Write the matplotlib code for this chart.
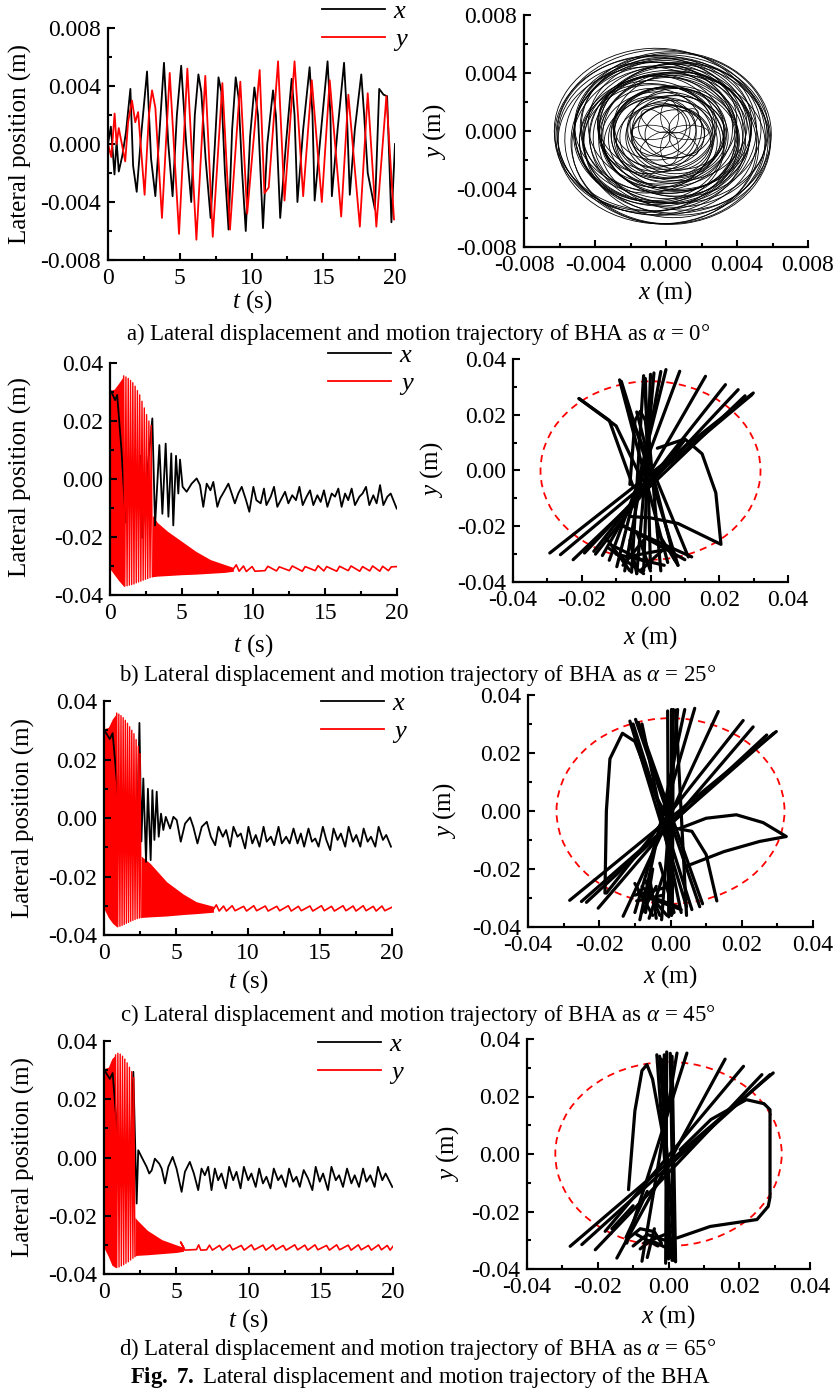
import numpy as np
import matplotlib
matplotlib.use('Agg')
import matplotlib.pyplot as plt
from matplotlib.patches import Ellipse
from matplotlib.lines import Line2D
from matplotlib.ticker import MultipleLocator, FuncFormatter

plt.rcParams['font.family'] = ['Liberation Serif', 'DejaVu Serif']
plt.rcParams['mathtext.fontset'] = 'custom'
plt.rcParams['mathtext.rm'] = 'Liberation Serif'
plt.rcParams['mathtext.it'] = 'Liberation Serif:italic'
plt.rcParams['mathtext.bf'] = 'Liberation Serif:bold'
plt.rcParams['axes.unicode_minus'] = False

###############################
######   DATA  (read off)  #####
###############################

# ---- a) alpha = 0 ----
xa_t = [0, 0.2, 0.45, 0.6, 0.75, 1.0, 1.25, 1.56, 1.75, 2.0, 2.3, 2.72, 3.0, 3.3, 3.6, 3.9, 4.2, 4.5, 4.8,
        5.1, 5.45, 5.8, 6.05, 6.3, 6.5, 6.8, 7.15, 7.45, 7.7, 7.9, 8.15, 8.4, 8.65, 8.9, 9.1, 9.35, 9.6,
        9.9, 10.2, 10.45, 10.8, 11.1, 11.5, 11.7, 12.0, 12.4, 12.8, 13.0, 13.2, 13.6, 14.05, 14.25, 14.4,
        14.9, 15.3, 15.5, 15.6, 16.0, 16.45, 16.65, 16.85, 17.2, 17.65, 17.85, 18.1, 18.6, 18.9, 19.2,
        19.45, 19.75, 20.0]
xa_v = [0.0, 0.0012, -0.0021, 0.0002, -0.0019, -0.0008, 0.0008, 0.0038, -0.0015, -0.0033, 0.0005, 0.0050,
        -0.0010, -0.0036, 0.0010, 0.0056, 0.0000, -0.0036, 0.0020, 0.0054, 0.0000, -0.0040, 0.0020, 0.0048,
        0.0036, -0.0010, -0.0051, 0.0000, 0.0046, 0.0036, -0.0020, -0.0059, 0.0010, 0.0046, 0.0032, -0.0020,
        -0.0060, 0.0005, 0.0039, 0.0020, -0.0058, 0.0000, 0.0037, 0.0020, -0.0051, 0.0000, 0.0045, 0.0020,
        -0.0040, 0.0010, 0.0053, 0.0020, -0.0039, 0.0015, 0.0057, 0.0020, -0.0036, 0.0010, 0.0056, 0.0020,
        -0.0035, 0.0010, 0.0048, 0.0020, -0.0020, -0.0045, 0.0038, 0.0034, 0.0033, -0.0054, 0.0000]
ya_t = [0, 0.23, 0.46, 0.6, 0.75, 1.2, 1.4, 1.67, 1.9, 2.1, 2.55, 2.85, 3.07, 3.3, 3.76, 4.3, 4.95, 5.53,
        6.16, 6.78, 7.3, 7.97, 8.5, 9.22, 9.7, 10.57, 10.9, 11.2, 11.85, 12.3, 13.0, 13.6, 14.2, 14.9,
        15.45, 16.25, 16.75, 17.55, 18.1, 18.7, 19.4, 19.93]
ya_v = [0.0, -0.0009, 0.0021, 0.0000, 0.0011, -0.0012, 0.0015, 0.0030, 0.0015, 0.0022, -0.0035, 0.0020,
        0.0037, 0.0025, -0.0051, 0.0049, -0.0062, 0.0052, -0.0066, 0.0047, -0.0064, 0.0042, -0.0059, 0.0043,
        -0.0048, 0.0051, -0.0034, -0.0030, 0.0057, -0.0039, 0.0057, -0.0036, 0.0044, -0.0040, 0.0044,
        -0.0050, 0.0034, -0.0057, 0.0035, -0.0057, 0.0033, -0.0052]

# trajectory loops for a) : centre, diameters, tilt
orbit_cx = [-0.0003, -0.0006, 0.0002, -0.0009, 0.0005, -0.0001, 0.0007, -0.0011, 0.0000, -0.0004, 0.0009,
            -0.0007, 0.0003, -0.0002, 0.0006, -0.0008, 0.0001, 0.0008, -0.0010, 0.0004, -0.0005, 0.0002,
            -0.0003, 0.0006, -0.0001, 0.0004, -0.0006, 0.0003, 0.0001, -0.0004, 0.0005, -0.0002,
            0.0001, -0.0005, 0.0004, -0.0008, 0.0006, -0.0002, 0.0003, -0.0006, 0.0008, -0.0004, 0.0000,
            0.0005, -0.0007, 0.0002, -0.0003, 0.0006, -0.0005, 0.0001, -0.0009, 0.0004, -0.0001, 0.0007,
            -0.0006, 0.0003]
orbit_cy = [-0.0004, 0.0001, -0.0007, -0.0002, 0.0002, -0.0010, -0.0003, -0.0006, 0.0004, -0.0001, -0.0008,
            0.0003, -0.0005, 0.0006, -0.0002, -0.0009, 0.0001, 0.0003, -0.0004, -0.0006, 0.0005, -0.0003,
            -0.0008, 0.0000, 0.0002, -0.0005, -0.0001, 0.0004, -0.0003, 0.0001, -0.0002, 0.0003,
            -0.0006, -0.0003, -0.0001, -0.0005, -0.0006, 0.0000, -0.0009, -0.0002, 0.0001, -0.0007, -0.0004,
            0.0002, -0.0008, -0.0003, 0.0003, -0.0005, -0.0006, -0.0002, 0.0000, -0.0004, -0.0007, -0.0001,
            0.0002, -0.0005]
orbit_w = [0.0118, 0.0114, 0.0111, 0.0108, 0.0106, 0.0104, 0.0101, 0.0099, 0.0097, 0.0095, 0.0092, 0.0090,
           0.0088, 0.0086, 0.0083, 0.0081, 0.0079, 0.0076, 0.0074, 0.0071, 0.0068, 0.0065, 0.0062, 0.0059,
           0.0056, 0.0052, 0.0048, 0.0045, 0.0041, 0.0037, 0.0033, 0.0029,
           0.0116, 0.0113, 0.0110, 0.0107, 0.0103, 0.0100, 0.0098, 0.0094, 0.0091, 0.0089, 0.0087, 0.0084,
           0.0080, 0.0077, 0.0073, 0.0070, 0.0066, 0.0063, 0.0060, 0.0057, 0.0054, 0.0050, 0.0046, 0.0043]
orbit_h = [0.0120, 0.0112, 0.0114, 0.0106, 0.0103, 0.0108, 0.0098, 0.0101, 0.0094, 0.0097, 0.0095, 0.0088,
           0.0090, 0.0083, 0.0086, 0.0084, 0.0077, 0.0074, 0.0078, 0.0073, 0.0065, 0.0067, 0.0064, 0.0056,
           0.0058, 0.0054, 0.0046, 0.0047, 0.0042, 0.0035, 0.0034, 0.0027,
           0.0117, 0.0110, 0.0112, 0.0104, 0.0106, 0.0099, 0.0102, 0.0092, 0.0093, 0.0090, 0.0085, 0.0087,
           0.0079, 0.0080, 0.0070, 0.0073, 0.0063, 0.0066, 0.0057, 0.0060, 0.0051, 0.0053, 0.0044, 0.0046]
orbit_ang = [0, 15, -10, 30, -25, 5, 40, -35, 20, -5, 50, -45, 10, 60, -15, 25, -60, 35, -20, 70, -40, 45,
             -70, 80, -50, 55, -80, 65, -30, 75, -55, 85,
             10, -20, 35, -40, 55, -65, 20, 75, -10, 45, -30, 65, -75, 15, -50, 30, 85, -25, 50, -85, 5, 60,
             -15, 40]
petal_cx = [0.0013, 0.0010, 0.0002, -0.0006, -0.0009, -0.0006, 0.0002, 0.0010]
petal_cy = [-0.0001, 0.0007, 0.0010, 0.0007, -0.0001, -0.0009, -0.0012, -0.0009]
petal_w = [0.0022, 0.0021, 0.0022, 0.0020, 0.0022, 0.0021, 0.0022, 0.0020]
petal_h = [0.0010, 0.0011, 0.0010, 0.0011, 0.0010, 0.0011, 0.0010, 0.0011]
petal_ang = [0, 45, 90, 135, 0, 45, 90, 135]

# ---- b) alpha = 25 ----
xb_t = [0, 0.15, 0.35, 0.5, 0.8, 1.1, 1.4, 1.7, 1.97, 2.1, 2.25, 2.55, 2.95, 3.14, 3.44, 3.65, 3.88, 4.07,
        4.27, 4.41, 4.6, 4.76, 4.88, 5.06, 5.34, 5.69, 6.04, 6.27, 6.5, 6.74, 7.0, 7.2, 7.48, 7.67, 7.94,
        8.25, 8.48, 8.7, 8.94, 9.18, 9.48, 9.71, 9.99, 10.2, 10.5, 10.73, 10.9, 11.2, 11.43, 11.66, 11.96,
        12.2, 12.43, 12.7, 12.96, 13.2, 13.43, 13.7, 13.94, 14.17, 14.45, 14.68, 14.91, 15.15, 15.45, 15.68,
        15.91, 16.14, 16.38, 16.6, 16.84, 17.07, 17.38, 17.6, 17.84, 18.07, 18.35, 18.58, 18.82, 19.05,
        19.33, 19.56, 19.98]
xb_v = [0.0307, 0.0295, 0.0272, 0.0290, 0.0100, -0.0150, 0.0050, -0.0050, -0.0095, 0.0080, -0.0202, 0.0000,
        0.0209, -0.0160, 0.0117, -0.0120, 0.0122, -0.0130, 0.0088, -0.0160, 0.0080, -0.0050, 0.0067, -0.0027,
        -0.0044, -0.0016, 0.0002, -0.0021, -0.0096, -0.0016, -0.0039, -0.0010, -0.0096, -0.0067, -0.0044,
        -0.0016, -0.0050, -0.0084, -0.0050, -0.0027, -0.0073, -0.0113, -0.0027, -0.0073, -0.0084, -0.0033,
        -0.0090, -0.0061, -0.0027, -0.0096, -0.0067, -0.0044, -0.0084, -0.0056, -0.0073, -0.0027, -0.0090,
        -0.0061, -0.0039, -0.0090, -0.0056, -0.0079, -0.0039, -0.0096, -0.0050, -0.0061, -0.0033, -0.0096,
        -0.0050, -0.0073, -0.0033, -0.0090, -0.0061, -0.0050, -0.0027, -0.0090, -0.0056, -0.0084, -0.0021,
        -0.0090, -0.0061, -0.0050, -0.0102]
yb_band0_t = [0, 0.3, 0.6, 0.95]
yb_band0_hi = [0.0305, 0.0310, 0.0330, 0.0355]
yb_band0_lo = [-0.0310, -0.0330, -0.0350, -0.0370]
yb_top_t = [0.95, 1.11, 1.27, 1.43, 1.59, 1.75, 1.91, 2.07, 2.23, 2.39, 2.55, 2.71, 2.87]
yb_top_v = [0.0355, 0.0352, 0.0347, 0.0340, 0.0332, 0.0320, 0.0305, 0.0290, 0.0268, 0.0245, 0.0222, 0.0200, 0.0185]
yb_bot_t = [1.03, 1.19, 1.35, 1.51, 1.67, 1.83, 1.99, 2.15, 2.31, 2.47, 2.63, 2.79, 2.95]
yb_bot_v = [-0.0370, -0.0368, -0.0366, -0.0364, -0.0362, -0.0358, -0.0355, -0.0352, -0.0349, -0.0346, -0.0343,
            -0.0340, -0.0337]
yb_band2_t = [2.95, 3.3, 4.0, 5.0, 6.0, 7.0, 8.0, 8.6]
yb_band2_hi = [-0.0125, -0.0150, -0.0180, -0.0215, -0.0250, -0.0278, -0.0295, -0.0305]
yb_band2_lo = [-0.0337, -0.0335, -0.0333, -0.0330, -0.0328, -0.0325, -0.0322, -0.0318]
yb_tail_t = [8.6, 8.8, 9.0, 9.3, 9.5, 9.9, 10.1, 10.8, 11.0, 11.6, 11.8, 12.5, 12.7, 13.4, 13.6, 14.3, 14.5,
             14.9, 15.1, 15.8, 16.0, 16.6, 16.8, 17.4, 17.6, 18.1, 18.3, 18.8, 19.0, 19.4, 19.6, 20.0]
yb_tail_v = [-0.0310, -0.0296, -0.0318, -0.0300, -0.0319, -0.0302, -0.0318, -0.0316, -0.0301, -0.0317, -0.0303,
             -0.0316, -0.0300, -0.0318, -0.0302, -0.0316, -0.0299, -0.0317, -0.0302, -0.0318, -0.0301, -0.0316,
             -0.0300, -0.0318, -0.0302, -0.0317, -0.0300, -0.0318, -0.0301, -0.0316, -0.0303, -0.0302]
traj_b = [
    [(-0.0293, -0.0296), (0.0299, 0.0278)], [(-0.0262, -0.0302), (0.0295, 0.0272)],
    [(-0.0225, -0.0320), (0.0275, 0.0268)], [(-0.0192, -0.0296), (0.0255, 0.0290)],
    [(-0.0165, -0.0290), (0.0218, 0.0308)], [(-0.0140, -0.0305), (0.0160, 0.0338)],
    [(-0.0120, -0.0322), (0.0085, 0.0356)], [(-0.0098, -0.0345), (0.0045, 0.0362)],
    [(-0.0075, -0.0360), (0.0030, 0.0355)], [(-0.0055, -0.0365), (-0.0020, 0.0340)],
    [(-0.0040, -0.0370), (0.0010, 0.0350)], [(-0.0020, -0.0360), (0.0000, 0.0345)],
    [(0.0000, -0.0350), (-0.0015, 0.0330)], [(0.0030, -0.0360), (-0.0020, 0.0335)],
    [(0.0050, -0.0330), (-0.0090, 0.0325)], [(0.0080, -0.0340), (-0.0085, 0.0320)],
    [(0.0110, -0.0310), (-0.0060, 0.0200)], [(0.0070, -0.0320), (-0.0040, 0.0210)],
    [(-0.0208, 0.0258), (-0.0120, 0.0180), (-0.0050, -0.0060)],
    [(-0.0208, 0.0258), (-0.0100, 0.0160), (-0.0030, -0.0020)],
    [(-0.0060, -0.0050), (-0.0045, 0.0180), (-0.0030, 0.0212), (-0.0015, 0.0180), (0.0000, 0.0000)],
    [(0.0020, 0.0080), (0.0100, 0.0113), (0.0150, 0.0060), (0.0190, -0.0080), (0.0205, -0.0265),
     (0.0180, -0.0250), (0.0080, -0.0190), (0.0000, -0.0170), (-0.0060, -0.0165)],
    [(-0.0120, -0.0280), (-0.0020, -0.0370)], [(-0.0100, -0.0300), (0.0040, -0.0340)],
    [(-0.0060, -0.0250), (-0.0040, -0.0370)], [(0.0020, -0.0220), (0.0080, -0.0340)],
    [(-0.0080, -0.0200), (0.0120, -0.0310)], [(-0.0090, -0.0190), (0.0100, -0.0320)],
    [(-0.0130, -0.0240), (-0.0060, -0.0360)], [(-0.0160, -0.0300), (0.0100, 0.0110)],
    [(-0.0040, -0.0220), (0.0000, -0.0360)], [(-0.0020, -0.0250), (-0.0080, -0.0340)],
    [(0.0040, -0.0280), (-0.0030, -0.0360)], [(-0.0110, -0.0270), (-0.0010, -0.0330)],
    [(-0.0070, -0.0310), (0.0060, -0.0280)],
]

# ---- c) alpha = 45 ----
xc_t = [0, 0.15, 0.4, 0.6, 0.9, 1.2, 1.5, 1.8, 2.1, 2.3, 2.46, 2.6, 2.73, 2.92, 3.05, 3.24, 3.36, 3.5, 3.66,
        3.8, 3.96, 4.12, 4.29, 4.59, 4.82, 5.05, 5.33, 5.63, 5.98, 6.2, 6.49, 6.79, 7.14, 7.42, 7.72, 7.95,
        8.25, 8.48, 8.76, 8.99, 9.27, 9.5, 9.8, 10.03, 10.3, 10.54, 10.8, 11.08, 11.3, 11.59, 11.82, 12.12,
        12.35, 12.65, 12.89, 13.16, 13.44, 13.67, 13.9, 14.2, 14.44, 14.67, 14.9, 15.2, 15.44, 15.71, 15.94,
        16.22, 16.45, 16.75, 16.99, 17.29, 17.52, 17.8, 18.03, 18.31, 18.54, 18.84, 19.07, 19.37, 19.6, 19.93]
xc_v = [0.0302, 0.0290, 0.0270, 0.0290, 0.0120, -0.0100, 0.0060, -0.0120, 0.0040, -0.0060, 0.0325, -0.0080,
        0.0135, -0.0150, 0.0100, -0.0144, 0.0095, -0.0075, 0.0090, -0.0064, 0.0015, -0.0041, 0.0004, -0.0036,
        0.0004, -0.0007, -0.0081, -0.0019, 0.0002, -0.0030, -0.0087, -0.0030, -0.0013, -0.0064, -0.0093,
        -0.0030, -0.0064, -0.0041, -0.0098, -0.0030, -0.0064, -0.0053, -0.0104, -0.0030, -0.0087, -0.0058,
        -0.0098, -0.0030, -0.0081, -0.0064, -0.0093, -0.0030, -0.0087, -0.0064, -0.0087, -0.0036, -0.0087,
        -0.0053, -0.0098, -0.0036, -0.0081, -0.0070, -0.0098, -0.0030, -0.0075, -0.0110, -0.0036, -0.0075,
        -0.0053, -0.0098, -0.0030, -0.0081, -0.0058, -0.0098, -0.0036, -0.0081, -0.0064, -0.0098, -0.0030,
        -0.0075, -0.0058, -0.0098]
yc_band0_t = [0, 0.3, 0.6, 0.88]
yc_band0_hi = [0.0305, 0.0310, 0.0340, 0.0358]
yc_band0_lo = [-0.0310, -0.0340, -0.0360, -0.0372]
yc_top_t = [0.88, 1.03, 1.18, 1.33, 1.48, 1.63, 1.78, 1.93, 2.08, 2.23, 2.38, 2.50]
yc_top_v = [0.0358, 0.0355, 0.0350, 0.0343, 0.0334, 0.0324, 0.0312, 0.0300, 0.0288, 0.0268, 0.0245, 0.0220]
yc_bot_t = [0.955, 1.105, 1.255, 1.405, 1.555, 1.705, 1.855, 2.005, 2.155, 2.305, 2.455, 2.58]
yc_bot_v = [-0.0372, -0.0370, -0.0367, -0.0364, -0.0360, -0.0357, -0.0353, -0.0350, -0.0347, -0.0344, -0.0342,
            -0.0340]
yc_band2_t = [2.58, 3.2, 4.35, 5.5, 6.4, 7.6]
yc_band2_hi = [-0.0130, -0.0155, -0.0218, -0.0260, -0.0286, -0.0302]
yc_band2_lo = [-0.0340, -0.0338, -0.0335, -0.0330, -0.0327, -0.0322]
yc_tail_t = [7.6, 7.8, 8.0, 8.3, 8.5, 8.9, 9.1, 9.7, 9.9, 10.4, 10.6, 11.2, 11.4, 12.0, 12.2, 12.8, 13.0, 13.5,
             13.7, 14.3, 14.5, 15.1, 15.3, 15.8, 16.0, 16.6, 16.8, 17.3, 17.5, 18.0, 18.2, 18.7, 18.9, 19.3,
             19.5, 20.0]
yc_tail_v = [-0.0312, -0.0297, -0.0318, -0.0301, -0.0318, -0.0300, -0.0317, -0.0302, -0.0318, -0.0300, -0.0317,
             -0.0301, -0.0318, -0.0302, -0.0317, -0.0300, -0.0318, -0.0302, -0.0317, -0.0301, -0.0318, -0.0300,
             -0.0317, -0.0302, -0.0318, -0.0300, -0.0317, -0.0301, -0.0318, -0.0300, -0.0317, -0.0302, -0.0318,
             -0.0301, -0.0317, -0.0305]
traj_c = [
    [(-0.0283, -0.0308), (0.0297, 0.0274)], [(-0.0250, -0.0312), (0.0290, 0.0268)],
    [(-0.0236, -0.0315), (0.0270, 0.0262)], [(-0.0203, -0.0335), (0.0232, 0.0290)],
    [(-0.0180, -0.0283), (0.0204, 0.0312)], [(-0.0133, -0.0363), (0.0134, 0.0343)],
    [(-0.0100, -0.0350), (0.0068, 0.0354)], [(-0.0086, -0.0375), (0.0040, 0.0350)],
    [(0.0000, 0.0352), (0.0000, -0.0360)], [(0.0008, 0.0350), (0.0005, -0.0355)],
    [(-0.0008, 0.0345), (-0.0005, -0.0365)], [(0.0015, 0.0348), (0.0045, -0.0360)],
    [(0.0020, 0.0350), (-0.0025, -0.0375)],
    [(-0.0114, 0.0310), (0.0045, -0.0330)], [(-0.0098, 0.0316), (0.0082, -0.0330)],
    [(-0.0105, 0.0300), (0.0060, -0.0340)], [(-0.0090, 0.0305), (0.0090, -0.0320)],
    [(-0.0080, 0.0300), (0.0030, -0.0350)],
    [(-0.0184, -0.0283), (-0.0180, 0.0000), (-0.0170, 0.0180), (-0.0135, 0.0268), (-0.0100, 0.0240),
     (-0.0040, 0.0050), (-0.0010, -0.0020)],
    [(0.0026, -0.0060), (0.0100, -0.0025), (0.0185, -0.0013), (0.0260, -0.0040), (0.0325, -0.0088),
     (0.0250, -0.0105), (0.0150, -0.0140), (0.0045, -0.0190)],
    [(0.0015, -0.0060), (0.0060, -0.0070), (0.0100, -0.0150), (0.0130, -0.0310)],
    [(-0.0100, -0.0250), (-0.0050, -0.0360)], [(-0.0080, -0.0260), (-0.0010, -0.0360)],
    [(-0.0060, -0.0220), (-0.0040, -0.0370)], [(-0.0090, -0.0280), (0.0020, -0.0330)],
    [(-0.0050, -0.0200), (-0.0070, -0.0350)], [(-0.0030, -0.0180), (0.0010, -0.0350)],
    [(-0.0095, -0.0310), (-0.0020, -0.0290)],
    [(-0.0070, -0.0240), (-0.0030, -0.0360)], [(-0.0040, -0.0260), (-0.0080, -0.0350)],
    [(-0.0100, -0.0290), (0.0000, -0.0260)], [(-0.0060, -0.0300), (0.0030, -0.0340)],
    [(-0.0020, -0.0220), (-0.0060, -0.0370)],
]

# ---- d) alpha = 65 ----
xd_t = [0, 0.15, 0.4, 0.6, 0.9, 1.2, 1.5, 1.8, 2.03, 2.26, 2.37, 2.6, 2.95, 3.13, 3.3, 3.52, 3.82, 3.99, 4.22,
        4.45, 4.75, 5.02, 5.37, 5.6, 5.94, 6.22, 6.52, 6.75, 6.98, 7.21, 7.44, 7.67, 7.9, 8.13, 8.43, 8.66,
        8.94, 9.17, 9.45, 9.68, 9.98, 10.2, 10.5, 10.74, 11.0, 11.24, 11.52, 11.75, 12.05, 12.28, 12.58,
        12.81, 13.09, 13.32, 13.55, 13.82, 14.12, 14.42, 14.65, 14.93, 15.16, 15.5, 15.74, 16.04, 16.27,
        16.54, 16.82, 17.12, 17.35, 17.65, 17.93, 18.16, 18.43, 18.73, 18.96, 19.26, 19.49, 19.95]
xd_v = [0.0305, 0.0290, 0.0270, 0.0290, 0.0100, -0.0100, 0.0050, -0.0050, 0.0294, -0.0158, 0.0025, 0.0002,
        -0.0032, -0.0055, -0.0044, -0.0004, -0.0021, -0.0038, -0.0089, -0.0032, 0.0002, -0.0038, -0.0118,
        -0.0049, -0.0015, -0.0055, -0.0112, -0.0038, -0.0061, -0.0032, -0.0112, -0.0038, -0.0078, -0.0055,
        -0.0106, -0.0032, -0.0078, -0.0049, -0.0106, -0.0032, -0.0078, -0.0055, -0.0101, -0.0038, -0.0089,
        -0.0066, -0.0106, -0.0038, -0.0078, -0.0061, -0.0101, -0.0038, -0.0083, -0.0066, -0.0101, -0.0043,
        -0.0072, -0.0112, -0.0032, -0.0083, -0.0055, -0.0112, -0.0032, -0.0078, -0.0061, -0.0101, -0.0038,
        -0.0089, -0.0061, -0.0101, -0.0038, -0.0083, -0.0061, -0.0101, -0.0032, -0.0078, -0.0055, -0.0101]
yd_band0_t = [0, 0.3, 0.55, 0.80]
yd_band0_hi = [0.0305, 0.0310, 0.0340, 0.0352]
yd_band0_lo = [-0.0310, -0.0340, -0.0370, -0.0378]
yd_top_t = [0.80, 0.96, 1.12, 1.28, 1.44, 1.60, 1.76, 1.92, 2.06]
yd_top_v = [0.0352, 0.0358, 0.0355, 0.0348, 0.0338, 0.0325, 0.0310, 0.0295, 0.0275]
yd_bot_t = [0.88, 1.04, 1.20, 1.36, 1.52, 1.68, 1.84, 2.00, 2.14]
yd_bot_v = [-0.0378, -0.0376, -0.0372, -0.0368, -0.0363, -0.0358, -0.0352, -0.0346, -0.0340]
yd_band2_t = [2.14, 2.3, 3.0, 4.0, 5.0, 5.5]
yd_band2_hi = [-0.0205, -0.0215, -0.0250, -0.0282, -0.0300, -0.0308]
yd_band2_lo = [-0.0338, -0.0336, -0.0334, -0.0330, -0.0326, -0.0322]
yd_tail_t = [5.5, 5.3, 5.6, 6.4, 6.55, 6.7, 7.1, 7.3, 7.5, 8.0, 8.2, 8.7, 8.9, 9.5, 9.7, 10.2, 10.4, 11.0, 11.2,
             11.7, 11.9, 12.4, 12.6, 13.2, 13.4, 13.9, 14.1, 14.6, 14.8, 15.4, 15.6, 16.1, 16.3, 16.9, 17.1,
             17.6, 17.8, 18.3, 18.5, 19.0, 19.2, 19.6, 19.8, 20.0]
yd_tail_v = [-0.0308, -0.0290, -0.0318, -0.0316, -0.0300, -0.0318, -0.0317, -0.0301, -0.0318, -0.0302, -0.0318,
             -0.0300, -0.0317, -0.0302, -0.0318, -0.0300, -0.0317, -0.0301, -0.0318, -0.0300, -0.0317, -0.0302,
             -0.0318, -0.0300, -0.0317, -0.0301, -0.0318, -0.0300, -0.0317, -0.0302, -0.0318, -0.0300, -0.0317,
             -0.0301, -0.0318, -0.0300, -0.0317, -0.0302, -0.0318, -0.0300, -0.0317, -0.0302, -0.0318, -0.0305]
traj_d = [
    [(-0.0278, -0.0321), (0.0296, 0.0282)], [(-0.0245, -0.0315), (0.0287, 0.0276)],
    [(-0.0207, -0.0333), (0.0264, 0.0276)], [(-0.0179, -0.0269), (0.0212, 0.0305)],
    [(-0.0146, -0.0362), (0.0160, 0.0330)], [(-0.0118, -0.0310), (0.0052, 0.0351)],
    [(-0.0075, -0.0373), (0.0024, 0.0351)],
    [(-0.0005, 0.0355), (-0.0008, -0.0380)], [(0.0005, 0.0350), (0.0015, -0.0370)],
    [(-0.0012, 0.0345), (0.0000, -0.0365)], [(0.0010, 0.0340), (0.0020, -0.0375)],
    [(-0.0020, 0.0330), (0.0005, -0.0360)],
    [(-0.0113, -0.0124), (-0.0095, 0.0150), (-0.0075, 0.0290), (-0.0061, 0.0311), (-0.0045, 0.0260),
     (-0.0015, 0.0060)],
    [(-0.0033, 0.0345), (0.0010, -0.0370)], [(-0.0025, 0.0340), (0.0018, -0.0360)],
    [(0.0033, 0.0015), (0.0120, 0.0120), (0.0220, 0.0189), (0.0270, 0.0175), (0.0287, 0.0154),
     (0.0287, -0.0150), (0.0282, -0.0182), (0.0250, -0.0228), (0.0118, -0.0252), (0.0024, -0.0292)],
    [(-0.0120, -0.0300), (-0.0080, -0.0260), (-0.0040, -0.0270), (-0.0020, -0.0310)],
    [(-0.0100, -0.0320), (-0.0060, -0.0280), (-0.0010, -0.0300)],
    [(-0.0080, -0.0330), (-0.0050, -0.0300), (0.0000, -0.0330)],
    [(-0.0160, -0.0260), (-0.0100, -0.0180)], [(-0.0120, -0.0290), (-0.0060, -0.0130)],
    [(-0.0090, -0.0280), (-0.0030, -0.0320)], [(-0.0070, -0.0310), (0.0010, -0.0270)],
    [(-0.0040, -0.0260), (-0.0060, -0.0360)],
]
circle_r = 0.032

captions = [r"a) Lateral displacement and motion trajectory of BHA as $\alpha$ = 0°",
            r"b) Lateral displacement and motion trajectory of BHA as $\alpha$ = 25°",
            r"c) Lateral displacement and motion trajectory of BHA as $\alpha$ = 45°",
            r"d) Lateral displacement and motion trajectory of BHA as $\alpha$ = 65°"]

###############################
######     FIGURE      #######
###############################
W, H = 836, 1396
fig = plt.figure(figsize=(W / 100, H / 100), dpi=100)


def box(l, r, t, b):
    return [l / W, 1 - b / H, (r - l) / W, (b - t) / H]


def ftxt(x, y, s, **kw):
    fig.text(x / W, 1 - y / H, s, **kw)


def fmt(nd):
    return FuncFormatter(lambda v, p: ('%.' + str(nd) + 'f') % (0.0 if abs(v) < 1e-9 else v))


def style(ax, xlim, ylim, xmaj, xmin, ymaj, ymin, xnd, ynd):
    ax.set_xlim(xlim)
    ax.set_ylim(ylim)
    for s in ['top', 'right']:
        ax.spines[s].set_visible(False)
    for s in ['left', 'bottom']:
        ax.spines[s].set_linewidth(1.6)
    ax.xaxis.set_major_locator(MultipleLocator(xmaj))
    ax.xaxis.set_minor_locator(MultipleLocator(xmin))
    ax.yaxis.set_major_locator(MultipleLocator(ymaj))
    ax.yaxis.set_minor_locator(MultipleLocator(ymin))
    ax.xaxis.set_major_formatter(fmt(xnd) if xnd else FuncFormatter(lambda v, p: '%d' % round(v)))
    ax.yaxis.set_major_formatter(fmt(ynd))
    ax.tick_params(which='major', direction='in', length=5, width=1.5, labelsize=17)
    ax.tick_params(which='minor', direction='in', length=3, width=1.5)
    ax.tick_params(axis='y', pad=5)
    ax.tick_params(axis='x', pad=6)
    ax.patch.set_alpha(0)


def legend(ax, hx, hy, lines):
    ax.legend(lines, ['$x$', '$y$'], loc='upper left', bbox_to_anchor=(hx / W, 1 - hy / H),
              bbox_transform=fig.transFigure, frameon=False, handlelength=2.4, handletextpad=0.3,
              labelspacing=0.15, fontsize=19, borderaxespad=0, borderpad=0)


def lateral(ax, xt, xv, b0t, b0h, b0l, tt, tv, bt, bv, b2t, b2h, b2l, tlt, tlv):
    lx, = ax.plot(xt, xv, color='k', lw=1.3)
    ax.fill_between(b0t, b0l, b0h, color='red', lw=0)
    zz = sorted(zip(tt + bt, tv + bv))
    ax.plot([p[0] for p in zz], [p[1] for p in zz], color='red', lw=1.0)
    ax.fill_between(b2t, b2l, b2h, color='red', lw=0)
    ax.plot(tlt, tlv, color='red', lw=1.2)
    ly = Line2D([], [], color='red', lw=1.3)
    return [lx, ly]


def trajectory(ax, strokes):
    for s in strokes:
        ax.plot([p[0] for p in s], [p[1] for p in s], color='k', lw=2.3, solid_capstyle='round')
    ax.add_patch(Ellipse((0, 0), 2 * circle_r, 2 * circle_r, fill=False, ec='red', ls=(0, (4, 3)), lw=1.3))


# ---- a) ----
ax = fig.add_axes(box(108, 395, 28, 260))
l1, = ax.plot(xa_t, xa_v, color='k', lw=1.3)
l2, = ax.plot(ya_t, ya_v, color='red', lw=1.3)
style(ax, (0, 20), (-0.008, 0.008), 5, 2.5, 0.004, 0.002, 0, 3)
legend(ax, 322, 0, [l1, l2])
ftxt(20, 144, 'Lateral position (m)', rotation=90, ha='center', va='center', fontsize=18)
ftxt(252, 302, '$t$ (s)', ha='center', va='center', fontsize=18)

ax = fig.add_axes(box(524, 808, 15, 247))
for cx, cy, w, h, a in zip(orbit_cx, orbit_cy, orbit_w, orbit_h, orbit_ang):
    ax.add_patch(Ellipse((cx, cy), w, h, angle=a, fill=False, ec='k', lw=0.6))
for cx, cy, w, h, a in zip(petal_cx, petal_cy, petal_w, petal_h, petal_ang):
    ax.add_patch(Ellipse((cx, cy), w, h, angle=a, fill=False, ec='k', lw=0.5))
style(ax, (-0.008, 0.008), (-0.008, 0.008), 0.004, 0.002, 0.004, 0.002, 3, 3)
ftxt(435, 132, '$y$ (m)', rotation=90, ha='center', va='center', fontsize=18)
ftxt(665, 293, '$x$ (m)', ha='center', va='center', fontsize=18)
ftxt(418, 340, captions[0], ha='center', va='baseline', fontsize=16.5)

# ---- b) c) d) ----
left_boxes = [(110, 397, 363, 595), (104, 392, 701, 935), (104, 393, 1041, 1274)]
right_boxes = [(513, 788, 359, 582), (528, 813, 695, 927), (527, 810, 1039, 1269)]
leg_pos = [(328, 344), (321, 692), (318, 1033)]
ylab_l = [(20, 477), (23, 818), (23, 1157)]
ylab_r = [(432, 470), (445, 811), (448, 1154)]
xlab_y = [(646, 638), (982, 977), (1321, 1317)]
cap_y = [681, 1021, 1355]
series = [
    (xb_t, xb_v, yb_band0_t, yb_band0_hi, yb_band0_lo, yb_top_t, yb_top_v, yb_bot_t, yb_bot_v,
     yb_band2_t, yb_band2_hi, yb_band2_lo, yb_tail_t, yb_tail_v),
    (xc_t, xc_v, yc_band0_t, yc_band0_hi, yc_band0_lo, yc_top_t, yc_top_v, yc_bot_t, yc_bot_v,
     yc_band2_t, yc_band2_hi, yc_band2_lo, yc_tail_t, yc_tail_v),
    (xd_t, xd_v, yd_band0_t, yd_band0_hi, yd_band0_lo, yd_top_t, yd_top_v, yd_bot_t, yd_bot_v,
     yd_band2_t, yd_band2_hi, yd_band2_lo, yd_tail_t, yd_tail_v),
]
trajs = [traj_b, traj_c, traj_d]

for i in range(3):
    l, r, t, b = left_boxes[i]
    ax = fig.add_axes(box(l, r, t, b))
    lines = lateral(ax, *series[i])
    style(ax, (0, 20), (-0.04, 0.04), 5, 2.5, 0.02, 0.01, 0, 2)
    legend(ax, leg_pos[i][0], leg_pos[i][1], lines)
    ftxt(ylab_l[i][0], ylab_l[i][1], 'Lateral position (m)', rotation=90, ha='center', va='center', fontsize=18)
    ftxt((l + r) / 2, xlab_y[i][0], '$t$ (s)', ha='center', va='center', fontsize=18)

    l, r, t, b = right_boxes[i]
    ax = fig.add_axes(box(l, r, t, b))
    trajectory(ax, trajs[i])
    style(ax, (-0.04, 0.04), (-0.04, 0.04), 0.02, 0.01, 0.02, 0.01, 2, 2)
    ftxt(ylab_r[i][0], ylab_r[i][1], '$y$ (m)', rotation=90, ha='center', va='center', fontsize=18)
    ftxt((l + r) / 2, xlab_y[i][1], '$x$ (m)', ha='center', va='center', fontsize=18)
    ftxt(418, cap_y[i], captions[i + 1], ha='center', va='baseline', fontsize=16.5)

ftxt(420, 1383, r"$\mathbf{Fig.\ 7.}$ Lateral displacement and motion trajectory of the BHA",
     ha='center', va='baseline', fontsize=16.5)

fig.savefig('out.png', dpi=100)
